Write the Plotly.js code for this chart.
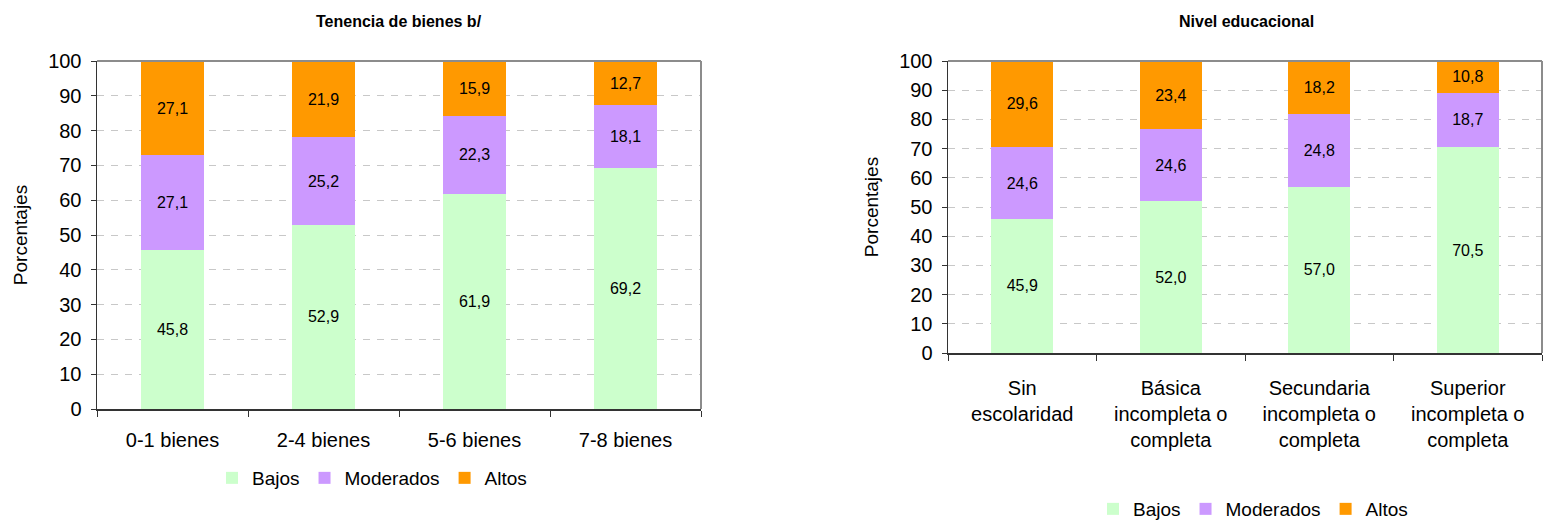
<!DOCTYPE html>
<html>
<head>
<meta charset="utf-8">
<script src="https://cdn.plot.ly/plotly-3.0.1.min.js"></script>
<style>html,body{margin:0;padding:0;background:#fff}#chart{width:1551px;height:520px}</style>
</head>
<body>
<div id="chart"></div>
<script>
// ---- Data ----
var seriesNames = ["Bajos", "Moderados", "Altos"];
var seriesColors = ["#CCFFCC", "#CC99FF", "#FF9900"];

var bienesCategories = ["0-1 bienes", "2-4 bienes", "5-6 bienes", "7-8 bienes"];
var bienesBajos = [45.8, 52.9, 61.9, 69.2];
var bienesModerados = [27.1, 25.2, 22.3, 18.1];
var bienesAltos = [27.1, 21.9, 15.9, 12.7];

var educCategories = ["Sin<br>escolaridad", "Básica<br>incompleta o<br>completa", "Secundaria<br>incompleta o<br>completa", "Superior<br>incompleta o<br>completa"];
var educBajos = [45.9, 52.0, 57.0, 70.5];
var educModerados = [24.6, 24.6, 24.8, 18.7];
var educAltos = [29.6, 23.4, 18.2, 10.8];

var yTickValues = [0, 10, 20, 30, 40, 50, 60, 70, 80, 90, 100];

var titleLeft = "Tenencia de bienes b/";
var titleRight = "Nivel educacional";
var yTitle = "Porcentajes";

// ---- Helpers ----
function fmt(v) { return v.toFixed(1).replace(".", ","); }
var FONT = "Liberation Sans, Arial, sans-serif";

function makeTraces(cats, groups, xa, ya, legendId) {
  return groups.map(function (vals, i) {
    return {
      type: "bar",
      name: seriesNames[i],
      x: cats,
      y: vals,
      xaxis: xa,
      yaxis: ya,
      legend: legendId,
      marker: { color: seriesColors[i], line: { width: 0 } },
      text: vals.map(fmt),
      textposition: "inside",
      insidetextanchor: "middle",
      textangle: 0,
      constraintext: "none",
      textfont: { family: FONT, size: 16, color: "#000" },
      hoverinfo: "skip"
    };
  });
}

var traces = []
  .concat(makeTraces(bienesCategories, [bienesBajos, bienesModerados, bienesAltos], "x", "y", "legend"))
  .concat(makeTraces(educCategories, [educBajos, educModerados, educAltos], "x2", "y2", "legend2"));

var W = 1551, H = 520;
function px(x) { return x / W; }
function py(y) { return 1 - y / H; }

function yAxis(domTop, domBottom, anchor) {
  return {
    domain: [py(domBottom), py(domTop)],
    anchor: anchor,
    automargin: false,
    range: [0, 100],
    tickvals: yTickValues,
    ticks: "outside",
    ticklen: 5,
    tickcolor: "#333",
    ticklabelstandoff: 5,
    showline: true,
    linecolor: "#333",
    linewidth: 1.5,
    showgrid: true,
    gridcolor: "#c8c8c8",
    gridwidth: 1,
    griddash: "7px,7px",
    zeroline: false,
    tickfont: { family: FONT, size: 20, color: "#000" },
    title: { text: yTitle, font: { family: FONT, size: 19, color: "#000" }, standoff: 15 },
    fixedrange: true
  };
}

function xAxis(left, right, anchor, standoff) {
  return {
    domain: [px(left), px(right)],
    anchor: anchor,
    automargin: false,
    type: "category",
    tickson: "boundaries",
    ticks: "outside",
    ticklen: 6,
    tickcolor: "#333",
    showline: true,
    linecolor: "#333",
    linewidth: 1.5,
    showgrid: false,
    zeroline: false,
    tickfont: { family: FONT, size: 20, color: "#000" },
    ticklabelstandoff: standoff,
    fixedrange: true
  };
}

function border(xa, ya) {
  return [
    { type: "line", xref: xa + " domain", yref: ya + " domain", x0: 0, x1: 1, y0: 1, y1: 1, line: { color: "#8c8c8c", width: 2 } },
    { type: "line", xref: xa + " domain", yref: ya + " domain", x0: 1, x1: 1, y0: 0, y1: 1, line: { color: "#8c8c8c", width: 2 } }
  ];
}

var layout = {
  width: W,
  height: H,
  margin: { l: 0, r: 0, t: 0, b: 0, pad: 0, autoexpand: false },
  paper_bgcolor: "#fff",
  plot_bgcolor: "#fff",
  barmode: "stack",
  bargap: 0.58,
  separators: ",.",
  font: { family: FONT, color: "#000" },
  xaxis: xAxis(97, 701, "y", 12),
  yaxis: yAxis(61, 409, "x"),
  xaxis2: xAxis(948, 1542, "y2", 16),
  yaxis2: yAxis(61, 353, "x2"),
  legend: {
    orientation: "h", traceorder: "normal", x: px(372), xanchor: "center", y: py(478), yanchor: "middle",
    font: { family: FONT, size: 19, color: "#000" }, itemwidth: 30, bgcolor: "rgba(0,0,0,0)"
  },
  legend2: {
    orientation: "h", traceorder: "normal", x: px(1253), xanchor: "center", y: py(509), yanchor: "middle",
    font: { family: FONT, size: 19, color: "#000" }, itemwidth: 30, bgcolor: "rgba(0,0,0,0)"
  },
  annotations: [
    { text: "<b>" + titleLeft + "</b>", xref: "paper", yref: "paper", x: px(399), y: py(22), xanchor: "center", yanchor: "middle", showarrow: false, font: { family: FONT, size: 16, color: "#000" } },
    { text: "<b>" + titleRight + "</b>", xref: "paper", yref: "paper", x: px(1246), y: py(22), xanchor: "center", yanchor: "middle", showarrow: false, font: { family: FONT, size: 16, color: "#000" } }
  ],
  shapes: border("x", "y").concat(border("x2", "y2")),
  showlegend: true
};

Plotly.newPlot("chart", traces, layout, { staticPlot: true, displayModeBar: false });
</script>
</body>
</html>
